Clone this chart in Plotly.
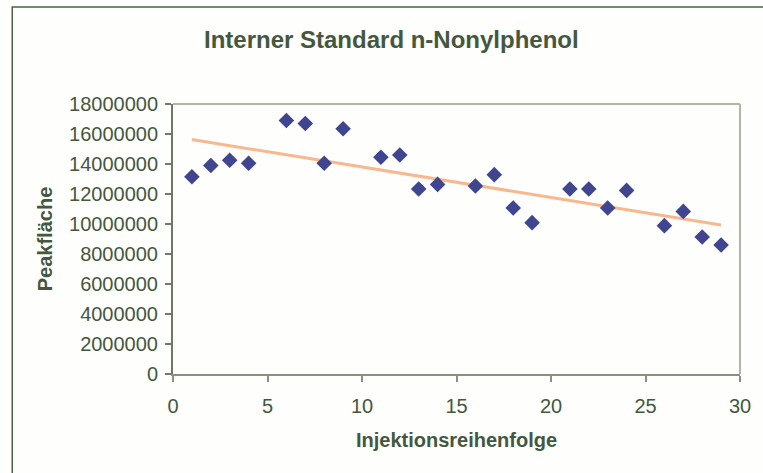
import numpy as np
import plotly.graph_objects as go

# Injektionsreihenfolge vs. Peakfläche
injektion = [1, 2, 3, 4, 6, 7, 8, 9, 11, 12, 13, 14,
             16, 17, 18, 19, 21, 22, 23, 24, 26, 27, 28, 29]
peakflaeche = [13150000, 13900000, 14250000, 14050000, 16900000, 16700000,
               14050000, 16350000, 14450000, 14600000, 12330000, 12640000,
               12530000, 13290000, 11070000, 10090000, 12330000, 12330000,
               11070000, 12240000, 9890000, 10840000, 9130000, 8600000]

x_ticks = [0, 5, 10, 15, 20, 25, 30]
y_ticks = [0, 2000000, 4000000, 6000000, 8000000, 10000000,
           12000000, 14000000, 16000000, 18000000]

text_col = "#44573F"
font_name = "Liberation Sans, Arial, sans-serif"

# linear trendline like the Excel one
slope, icpt = np.polyfit(injektion, peakflaeche, 1)
trend_x = [injektion[0], injektion[-1]]
trend_y = [slope * v + icpt for v in trend_x]

fig = go.Figure()
fig.add_trace(go.Scatter(
    x=trend_x, y=trend_y, mode="lines",
    line=dict(color="#F9B78E", width=3),
    hoverinfo="skip",
))
fig.add_trace(go.Scatter(
    x=injektion, y=peakflaeche, mode="markers",
    marker=dict(symbol="diamond", size=12, color="#3F468F", line=dict(width=0)),
))

W, H = 763, 473
L, R, T, B = 173, 748, 104, 374


def px(xp):
    return (xp - L) / (R - L)


def py(yp):
    return (B - yp) / (B - T)


fig.update_layout(
    width=W, height=H,
    margin=dict(l=L, r=W - R, t=T, b=H - B),
    paper_bgcolor="#FEFEFC",
    plot_bgcolor="#FEFEFC",
    showlegend=False,
    font=dict(family=font_name, size=20, color=text_col),
    xaxis=dict(
        range=[0, 30], tickvals=x_ticks, showgrid=False, zeroline=False,
        showline=True, linecolor="#8C917F", linewidth=2,
        ticks="outside", ticklen=6, tickcolor="#8C917F", tickwidth=1.5,
        ticklabelstandoff=7,
        tickfont=dict(size=20, color=text_col),
        title=dict(text="<b>Injektionsreihenfolge</b>", font=dict(size=20), standoff=17),
    ),
    yaxis=dict(
        range=[0, 18000000], tickvals=y_ticks, tickformat="d",
        showgrid=False, zeroline=False,
        showline=True, linecolor="#6E7866", linewidth=2,
        ticks="outside", ticklen=6, tickcolor="#6E7866", tickwidth=1.5,
        ticklabelstandoff=3,
        tickfont=dict(size=20, color=text_col),
        title=dict(text="<b>Peakfläche</b>", font=dict(size=20), standoff=11),
    ),
    shapes=[
        # top and right edges of the plot area
        dict(type="line", xref="paper", yref="paper", x0=0, x1=1, y0=1, y1=1,
             line=dict(color="#B5B5A5", width=2)),
        dict(type="line", xref="paper", yref="paper", x0=1, x1=1, y0=0, y1=1,
             line=dict(color="#B5B5A5", width=2)),
        # outer chart border (cropped at right and bottom)
        dict(type="rect", xref="paper", yref="paper",
             x0=px(10), x1=px(820), y0=py(530), y1=py(7),
             line=dict(color="#4E5E48", width=1.5), layer="below"),
    ],
    annotations=[
        dict(text="<b>Interner Standard n-Nonylphenol</b>", xref="paper", yref="paper",
             x=px(395), y=py(39), xanchor="center", yanchor="middle",
             showarrow=False, font=dict(size=24, color=text_col)),
    ],
)

# drop the default page margin so the figure sits at the window corner
fig.write_html("out.html", config={"displayModeBar": False},
               post_script="document.body.style.margin='0';document.body.style.overflow='hidden';")
